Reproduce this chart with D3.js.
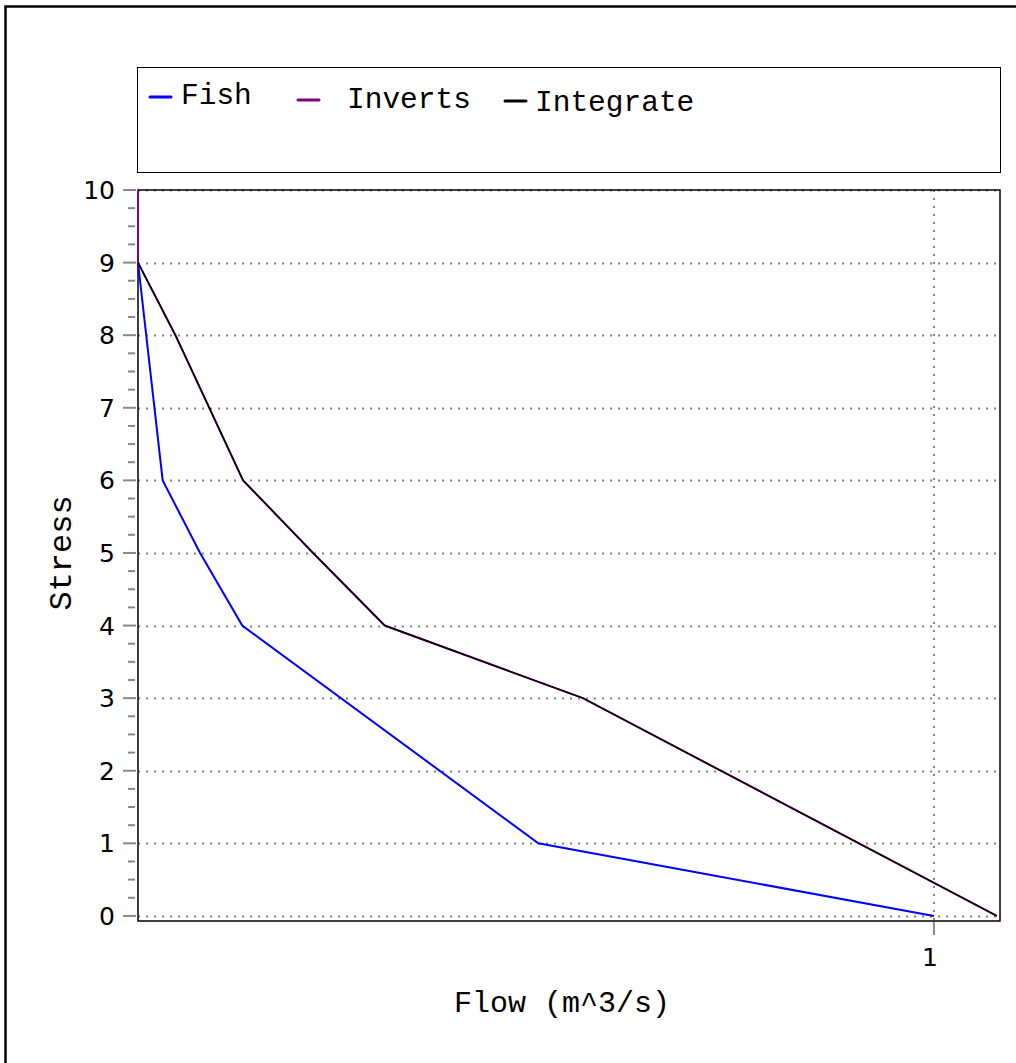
<!DOCTYPE html>
<html lang="en">
<head>
    <meta charset="UTF-8">
    <title>Stress vs Flow</title>
    <script src="https://d3js.org/d3.v7.min.js"></script>
    <style>
        body { margin: 0; background: #fff; }
        .mono { font-family: "Liberation Mono", "Courier New", monospace; fill: #000; }
        .tick-label { font-family: "DejaVu Sans", sans-serif; font-size: 25px; fill: #000; }
    </style>
</head>
<body>
    <svg id="chart"></svg>
    <script>
        // Data (flow in m^3/s, stress 0-10)
        const fishFlow = [0, 0.031, 0.078, 0.131, 0.503, 1.0];
        const fishStress = [9, 6, 5, 4, 1, 0];
        const invertsFlow = [0, 0, 0.047, 0.132, 0.22, 0.31, 0.559, 1.079];
        const invertsStress = [10, 9, 8, 6, 5, 4, 3, 0];
        const integrateFlow = [0, 0.047, 0.132, 0.22, 0.31, 0.559, 1.079];
        const integrateStress = [9, 8, 6, 5, 4, 3, 0];
        const yTicks = [0, 1, 2, 3, 4, 5, 6, 7, 8, 9, 10];
        const xTicks = [1];

        const series = [
            { name: "Fish", color: "#0000ff", x: fishFlow, y: fishStress },
            { name: "Inverts", color: "#800080", x: invertsFlow, y: invertsStress },
            { name: "Integrate", color: "#000000", x: integrateFlow, y: integrateStress }
        ];

        const W = 1016, H = 1063;
        const plot = { left: 138, right: 1000, top: 190, bottom: 921 };

        const svg = d3.select("#chart").attr("width", W).attr("height", H);

        // outer frame (only top/left visible)
        svg.append("rect")
            .attr("x", 5.5).attr("y", 6.5)
            .attr("width", W + 20).attr("height", H + 20)
            .attr("fill", "none").attr("stroke", "#000").attr("stroke-width", 2.5);

        const x = d3.scaleLinear().domain([0, 1.083]).range([plot.left, plot.right]);
        const y = d3.scaleLinear().domain([-0.07, 10]).range([plot.bottom, plot.top]);

        // legend box
        svg.append("rect")
            .attr("x", 137.5).attr("y", 67.5)
            .attr("width", 863).attr("height", 105)
            .attr("fill", "none").attr("stroke", "#000").attr("stroke-width", 1);

        const legendPos = [
            { sx: 150, sy: 97, tx: 181, ty: 104 },
            { sx: 298, sy: 100, tx: 347, ty: 108 },
            { sx: 505, sy: 101, tx: 535, ty: 111 }
        ];
        series.forEach((s, i) => {
            const p = legendPos[i];
            svg.append("line")
                .attr("x1", p.sx).attr("x2", p.sx + 21)
                .attr("y1", p.sy).attr("y2", p.sy)
                .attr("stroke", s.color).attr("stroke-width", 3).attr("stroke-linecap", "round");
            svg.append("text").attr("class", "mono")
                .attr("x", p.tx).attr("y", p.ty)
                .attr("font-size", "29.5px")
                .text(s.name);
        });

        // grid
        svg.append("g").selectAll("line")
            .data(yTicks)
            .join("line")
            .attr("x1", plot.left).attr("x2", plot.right)
            .attr("y1", d => Math.round(y(d)) + 0.5).attr("y2", d => Math.round(y(d)) + 0.5)
            .attr("stroke", "#808080").attr("stroke-width", 2)
            .attr("stroke-dasharray", "2,6");
        svg.append("g").selectAll("line")
            .data(xTicks)
            .join("line")
            .attr("x1", d => x(d)).attr("x2", d => x(d))
            .attr("y1", plot.top).attr("y2", plot.bottom)
            .attr("stroke", "#808080").attr("stroke-width", 2)
            .attr("stroke-dasharray", "2,6");

        // plot frame
        svg.append("rect")
            .attr("x", plot.left).attr("y", plot.top)
            .attr("width", plot.right - plot.left).attr("height", plot.bottom - plot.top)
            .attr("fill", "none").attr("stroke", "#000").attr("stroke-width", 1.5);

        // y axis ticks (major + minor)
        const minor = [];
        yTicks.slice(0, -1).forEach(t => [0.25, 0.5, 0.75].forEach(f => minor.push(t + f)));
        svg.append("g").selectAll("line")
            .data(minor)
            .join("line")
            .attr("x1", plot.left - 10).attr("x2", plot.left - 3)
            .attr("y1", d => y(d)).attr("y2", d => y(d))
            .attr("stroke", "#888").attr("stroke-width", 2);
        svg.append("g").selectAll("line")
            .data(yTicks)
            .join("line")
            .attr("x1", plot.left - 15).attr("x2", plot.left - 2)
            .attr("y1", d => y(d)).attr("y2", d => y(d))
            .attr("stroke", "#888").attr("stroke-width", 2);
        svg.append("g").selectAll("text")
            .data(yTicks)
            .join("text")
            .attr("class", "tick-label")
            .attr("x", 115).attr("y", d => y(d))
            .attr("dy", "0.36em")
            .attr("text-anchor", "end")
            .text(d => d);

        // x axis ticks
        svg.append("g").selectAll("line")
            .data(xTicks)
            .join("line")
            .attr("x1", d => x(d)).attr("x2", d => x(d))
            .attr("y1", plot.bottom + 1).attr("y2", plot.bottom + 14)
            .attr("stroke", "#888").attr("stroke-width", 2);
        svg.append("g").selectAll("text")
            .data(xTicks)
            .join("text")
            .attr("class", "tick-label")
            .attr("x", d => x(d) - 4).attr("y", 966)
            .attr("text-anchor", "middle")
            .text(d => d);

        // axis titles
        svg.append("text").attr("class", "mono")
            .attr("x", 562).attr("y", 1012)
            .attr("text-anchor", "middle")
            .attr("font-size", "30px")
            .text("Flow (m^3/s)");
        svg.append("text").attr("class", "mono")
            .attr("transform", "translate(71,553) rotate(-90)")
            .attr("text-anchor", "middle")
            .attr("font-size", "32px")
            .text("Stress");

        // lines
        const line = d3.line().x(d => x(d[0])).y(d => y(d[1]));
        series.forEach(s => {
            const pts = s.x.map((v, i) => [v, s.y[i]]);
            svg.append("path")
                .datum(pts)
                .attr("d", line)
                .attr("fill", "none")
                .attr("stroke", s.color)
                .attr("stroke-width", s.name === "Integrate" ? 1.5 : 2);
        });
    </script>
</body>
</html>
